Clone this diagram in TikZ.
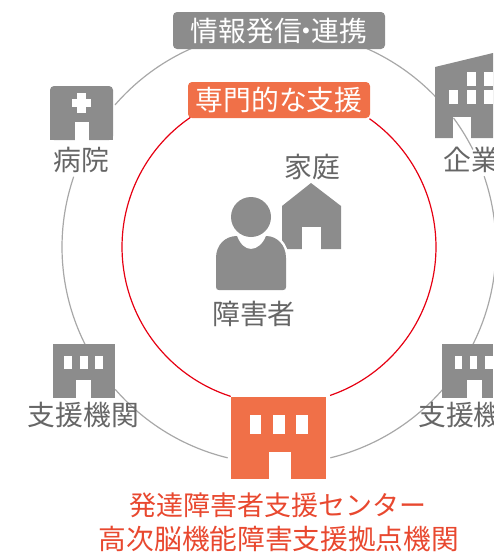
\documentclass[tikz,border=0pt]{standalone}
\usepackage{fontspec}
\setmainfont{Noto Sans CJK JP}
\definecolor{gfill}{HTML}{8C8C8C}
\definecolor{gline}{HTML}{A8A8A8}
\definecolor{otext}{HTML}{E8482F}
\definecolor{ofill}{HTML}{F07048}
\definecolor{redline}{HTML}{E60012}
\definecolor{gtext}{HTML}{666666}
\newcommand{\ringarc}[4]{\draw[#1] plot[smooth,domain=#3:#4,samples=40] ({279+#2*cos(\x)},{247+#2*sin(\x)});}
\newcommand{\bodypath}{(216,287) [rounded corners=0pt] -- (216,258) .. controls (216,245) and (225,236) .. (237,236) .. controls (240,244) and (245,249) .. (251,249) .. controls (257,249) and (263,244) .. (266,236) .. controls (277,236) and (286,245) .. (286,258) -- (286,287) .. controls (286,289) and (285,290) .. (283,290) -- (219,290) .. controls (217,290) and (216,289) .. (216,287) -- cycle}
\tikzset{
 x=1pt,y=-1pt,
 grayring/.style={draw=gline,line width=1.2pt},
 redring/.style={draw=redline,line width=1.2pt},
 lbl/.style={text=gtext,font=\fontsize{27.8}{28}\selectfont,inner sep=0pt},
 chip/.style={text=white,font=\fontsize{27.8}{28}\selectfont,inner sep=0pt},
 title/.style={text=otext,inner sep=0pt},
 gshape/.style={fill=gfill},
 oshape/.style={fill=ofill},
 hole/.style={fill=white},
}
\begin{document}
\begin{tikzpicture}
\useasboundingbox (0,0) rectangle (493,554);
% rings
\ringarc{grayring}{217}{-66.3}{-43.7}
\ringarc{grayring}{217}{-19}{26.8}
\ringarc{grayring}{217}{40.9}{76.3}
\ringarc{grayring}{217}{103.7}{139}
\ringarc{grayring}{217}{153.4}{198.9}
\ringarc{grayring}{217}{220.9}{246.2}
\ringarc{redring}{157}{107.9}{235.7}
\ringarc{redring}{157}{-54.8}{71}
% labels on the rings
\fill[gshape,rounded corners=4pt] (173,12) rectangle (385,49);
\node[chip] (info) at (279,31) {情報発信\kern-9pt・\kern-9pt連携};
\fill[oshape,rounded corners=4pt] (188,82) rectangle (370,118);
\node[chip] (pro) at (279,100) {専門的な支援};
% hospital
\fill[gshape,rounded corners=4pt] (50,140) -- (50,86) -- (113,86) -- (113,140) -- cycle;
\fill[gshape] (50,130) rectangle (113,140);
\fill[hole] (75,122) rectangle (89,141);
\fill[hole] (77,93) rectangle (86,113);
\fill[hole] (72,99) rectangle (91,107);
\node[lbl] (hosp) at (81.5,160) {病院};
% company
\fill[gshape] (435,67) -- (493,53) -- (493,138) -- (435,138) -- cycle;
\fill[hole] (467,72) rectangle (476,86);
\fill[hole] (484,72) rectangle (493,86);
\fill[hole] (449,90) rectangle (458,104);
\fill[hole] (467,90) rectangle (476,104);
\fill[hole] (484,90) rectangle (493,104);
\fill[hole] (453,117) rectangle (471,139);
\ringarc{grayring}{217}{-36.5}{-26.7}
\node[lbl,anchor=west] (corp) at (443,160) {企業};
% left office
\fill[gshape] (53,344) rectangle (115,398);
\fill[hole] (64,356) rectangle (72,369);
\fill[hole] (80,356) rectangle (88,369);
\fill[hole] (95,356) rectangle (103,369);
\fill[hole] (76,380) rectangle (91,399);
\node[lbl] (supl) at (83.5,415) {支援機関};
% right office
\fill[gshape] (442,344) rectangle (493,398);
\fill[hole] (455,356) rectangle (462,369);
\fill[hole] (470,356) rectangle (477,369);
\fill[hole] (485,356) rectangle (493,369);
\fill[hole] (467,380) rectangle (482,399);
\node[lbl,anchor=west] (supr) at (418,415) {支援機関};
% house
\fill[gshape] (311,183) -- (341,206) -- (341,249) -- (282,249) -- (282,206) -- cycle;
\fill[hole] (302,227) rectangle (321,250);
\node[lbl] (home) at (312,167) {家庭};
% person
\draw[white,line width=5pt] \bodypath;
\fill[gfill] \bodypath;
\fill[gfill] (251,217) circle[radius=20];
\node[lbl] (pers) at (254,314) {障害者};
% centre
\fill[oshape] (231,397) rectangle (326,479);
\fill[hole] (250,415) rectangle (261,434);
\fill[hole] (273,415) rectangle (285,434);
\fill[hole] (296,415) rectangle (308,434);
\fill[hole] (269,452) rectangle (291,480);
\node[title,font=\fontsize{27}{27}\selectfont] (t1) at (278,505) {発達障害者支援センター};
\node[title,font=\fontsize{27.7}{28}\selectfont] (t2) at (279,539) {高次脳機能障害支援拠点機関};
\end{tikzpicture}
\end{document}
